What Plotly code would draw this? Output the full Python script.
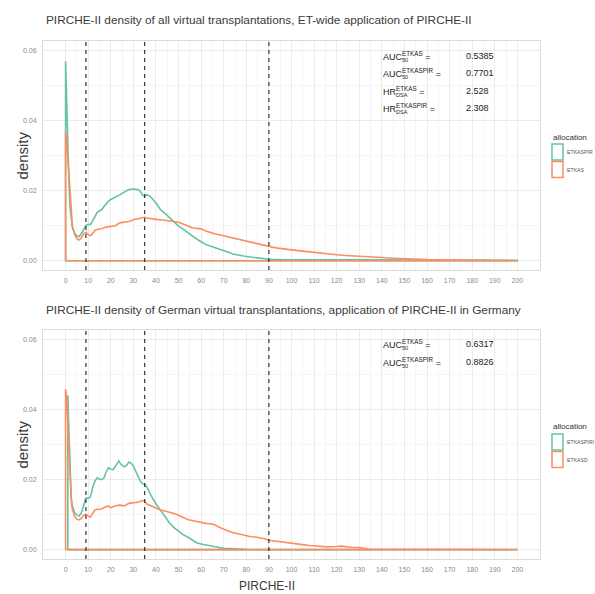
import plotly.graph_objects as go

# ---------------- data ----------------
x_ticks = list(range(0, 201, 10))
x_minor = [v + 5 for v in range(0, 200, 10)]
y_ticks = [0.0, 0.02, 0.04, 0.06]
y_tick_labels = ["0.00", "0.02", "0.04", "0.06"]
y_minor = [0.01, 0.03, 0.05]
thresholds = [9, 35, 90]

# Top panel: ET-wide application
top_etkaspir_x = [0, 0.5, 1, 1.5, 2, 2.5, 3, 4, 5, 6, 7, 8, 9, 10, 11, 12, 13, 14, 15, 16, 17, 18, 19, 20,
                  22, 24, 26, 28, 30, 32, 33, 34, 35, 36, 37, 38, 40, 42, 44, 46, 48, 50, 52, 54, 56, 58, 60,
                  62, 64, 66, 68, 70, 72, 74, 76, 78, 80, 85, 90, 95, 100, 110, 120, 130, 140, 150, 160, 170,
                  180, 190, 200]
top_etkaspir_y = [0.057, 0.045, 0.032, 0.022, 0.015, 0.0115, 0.0095, 0.0078, 0.0071, 0.0069, 0.0077, 0.0089,
                  0.0101, 0.0104, 0.0103, 0.0114, 0.0128, 0.0138, 0.0142, 0.0146, 0.0155, 0.0163, 0.0170,
                  0.0175, 0.0181, 0.0188, 0.0196, 0.0203, 0.0205, 0.0203, 0.0199, 0.0188, 0.0184, 0.0188,
                  0.0186, 0.0180, 0.0165, 0.0146, 0.0135, 0.0122, 0.0110, 0.0099, 0.0090, 0.0080, 0.0070,
                  0.0062, 0.0054, 0.0046, 0.0042, 0.0038, 0.0033, 0.0029, 0.0024, 0.0019, 0.0016, 0.0014,
                  0.0012, 0.0008, 0.0004, 0.0003, 0.0003, 0.0003, 0.0003, 0.0002, 0.0002, 0.0002, 0.0001,
                  0.0001, 0.0001, 0.0001, 0.0001]
top_etkas_x = [0, 0.5, 1, 1.5, 2, 2.5, 3, 4, 5, 6, 7, 8, 9, 10, 11, 12, 13, 14, 16, 18, 20, 22, 24, 26, 28,
               30, 32, 34, 35, 36, 38, 40, 42, 44, 46, 48, 50, 52, 54, 56, 58, 60, 62, 64, 66, 68, 70, 72, 74,
               76, 78, 80, 82, 84, 86, 88, 90, 92, 94, 96, 98, 100, 104, 108, 112, 116, 120, 124, 128, 132,
               136, 140, 145, 150, 160, 170, 180, 190, 200]
top_etkas_y = [0.0368, 0.034, 0.029, 0.023, 0.017, 0.013, 0.010, 0.0075, 0.0063, 0.0059, 0.0065, 0.0077,
               0.0081, 0.0075, 0.0071, 0.0078, 0.0087, 0.0089, 0.0091, 0.0096, 0.0097, 0.0100, 0.0108, 0.0110,
               0.0112, 0.0117, 0.0120, 0.0122, 0.0124, 0.0122, 0.0119, 0.0118, 0.0117, 0.0116, 0.0114, 0.0112,
               0.0110, 0.0106, 0.0100, 0.0094, 0.0092, 0.0091, 0.0085, 0.0080, 0.0077, 0.0074, 0.0071, 0.0067,
               0.0064, 0.0061, 0.0058, 0.0055, 0.0052, 0.0049, 0.0045, 0.0042, 0.0040, 0.0038, 0.0036, 0.0035,
               0.0033, 0.0031, 0.0028, 0.0025, 0.0021, 0.0019, 0.0017, 0.0015, 0.0013, 0.0011, 0.0010, 0.0009,
               0.0007, 0.0005, 0.0003, 0.0002, 0.0001, 0.0001, 0.0]

# Bottom panel: Germany
bot_etkaspir_x = [1, 1.5, 2, 2.5, 3, 4, 5, 6, 7, 8, 9, 10, 11, 12, 13, 14, 15, 16, 17, 18, 19, 20, 21, 22,
                  23, 23.5, 24, 25, 26, 27, 28, 29, 30, 31, 32, 33, 34, 35, 36, 37, 38, 40, 42, 44, 46, 48,
                  50, 52, 54, 56, 58, 60, 62, 64, 66, 68, 70, 72, 75, 80, 90, 100, 120, 140, 160, 180, 200]
bot_etkaspir_y = [0.044, 0.033, 0.022, 0.015, 0.0125, 0.0105, 0.0099, 0.0096, 0.0105, 0.0125, 0.0147, 0.0147,
                  0.0150, 0.0178, 0.0196, 0.0205, 0.0201, 0.0200, 0.0205, 0.0222, 0.0234, 0.0229, 0.0228,
                  0.0237, 0.0250, 0.0253, 0.0248, 0.0240, 0.0236, 0.0240, 0.0250, 0.0247, 0.0238, 0.0225,
                  0.0210, 0.0196, 0.0188, 0.0187, 0.0178, 0.0165, 0.0152, 0.0131, 0.0112, 0.0093, 0.0076,
                  0.0063, 0.0052, 0.0043, 0.0036, 0.0029, 0.0020, 0.0016, 0.0013, 0.0011, 0.0009, 0.0006,
                  0.0004, 0.0003, 0.0002, 0.0001, 0.0, 0.0, 0.0, 0.0, 0.0, 0.0, 0.0]
bot_etkasd_x = [0, 0.5, 1, 1.5, 2, 2.5, 3, 4, 5, 6, 7, 8, 9, 10, 11, 12, 13, 14, 16, 18, 19, 20, 22, 24, 26,
                28, 30, 32, 34, 35, 36, 38, 40, 42, 44, 46, 48, 50, 52, 54, 56, 58, 60, 62, 64, 66, 68, 70, 72,
                74, 76, 78, 80, 82, 84, 86, 88, 90, 92, 94, 96, 100, 104, 108, 112, 116, 120, 122, 126, 130,
                134, 140, 150, 160, 170, 180, 200]
bot_etkasd_y = [0.0458, 0.043, 0.036, 0.027, 0.019, 0.014, 0.0115, 0.0095, 0.0087, 0.0085, 0.0090, 0.0098,
                0.0102, 0.0096, 0.0093, 0.0103, 0.0113, 0.0115, 0.0116, 0.0123, 0.0124, 0.0119, 0.0125, 0.0127,
                0.0125, 0.0132, 0.0134, 0.0135, 0.0140, 0.0138, 0.0130, 0.0124, 0.0119, 0.0113, 0.0110, 0.0107,
                0.0103, 0.0098, 0.0092, 0.0086, 0.0083, 0.0080, 0.0077, 0.0075, 0.0074, 0.0071, 0.0064, 0.0058,
                0.0053, 0.0049, 0.0046, 0.0042, 0.0040, 0.0037, 0.0036, 0.0034, 0.0031, 0.0027, 0.0025, 0.0023,
                0.0021, 0.0018, 0.0015, 0.0012, 0.0010, 0.0008, 0.0009, 0.0010, 0.0007, 0.0006, 0.0002, 0.0001,
                0.0001, 0.0001, 0.0001, 0.0, 0.0]

top_title = "PIRCHE-II density of all virtual transplantations, ET-wide application of PIRCHE-II"
bot_title = "PIRCHE-II density of German virtual transplantations, application of PIRCHE-II in Germany"
top_legend_labels = ["ETKASPIR", "ETKAS"]
bot_legend_labels = ["ETKASPIRI", "ETKASD"]

top_stat_base = ["AUC", "AUC", "HR", "HR"]
top_stat_sup = ["ETKAS", "ETKASPIR", "ETKAS", "ETKASPIR"]
top_stat_sub = ["50", "50", "DSA", "DSA"]
top_stat_val = ["0.5385", "0.7701", "2.528", "2.308"]
bot_stat_base = ["AUC", "AUC"]
bot_stat_sup = ["ETKAS", "ETKASPIR"]
bot_stat_sub = ["50", "50"]
bot_stat_val = ["0.6317", "0.8826"]

# ---------------- style ----------------
W, H = 595, 594
GREEN = "#66C2A5"
ORANGE = "#FC8D62"
FONT = "Liberation Sans, Arial, sans-serif"
GRID = "#ebebeb"
GRID_MINOR = "#f5f5f5"
TICK_COL = "#8a8a8a"
TXT = "#3a3a3a"


def px(x):
    return x / W


def py(y):
    return 1 - y / H


def outline(xs, ys):
    # density polygon outline as drawn by geom_density: baseline + curve
    return [xs[0]] + list(xs) + [xs[-1], xs[0]], [0] + list(ys) + [0, 0]


fig = go.Figure()
panels = [
    ("x", "y", [(top_etkaspir_x, top_etkaspir_y, GREEN), (top_etkas_x, top_etkas_y, ORANGE)]),
    ("x2", "y2", [(bot_etkaspir_x, bot_etkaspir_y, GREEN), (bot_etkasd_x, bot_etkasd_y, ORANGE)]),
]
for xa, ya, series in panels:
    for xs, ys, col in series:
        ox, oy = outline(xs, ys)
        fig.add_trace(go.Scatter(x=ox, y=oy, mode="lines", xaxis=xa, yaxis=ya,
                                 line=dict(color=col, width=1.6), showlegend=False,
                                 hoverinfo="skip"))

xrange_ = [-10, 210]
yrange_ = [-0.00266, 0.06277]
x_dom = [px(43), px(540)]
top_dom = [py(270), py(41)]
bot_dom = [py(559), py(329.5)]


def xaxis(anchor):
    return dict(range=xrange_, domain=x_dom, anchor=anchor, tickmode="array", tickvals=x_ticks,
                ticktext=[str(v) for v in x_ticks], showgrid=True, gridcolor=GRID, gridwidth=1,
                minor=dict(tickmode="array", tickvals=x_minor, showgrid=True, gridcolor=GRID_MINOR,
                           gridwidth=0.8),
                zeroline=False, showline=True, linecolor="#dcdcdc", linewidth=1, mirror=True,
                ticks="", ticklabelstandoff=4,
                tickfont=dict(family=FONT, size=7, color=TICK_COL), fixedrange=True)


def yaxis(anchor, dom):
    return dict(range=yrange_, domain=dom, anchor=anchor, tickmode="array", tickvals=y_ticks,
                ticktext=y_tick_labels, showgrid=True, gridcolor=GRID, gridwidth=1,
                minor=dict(tickmode="array", tickvals=y_minor, showgrid=True, gridcolor=GRID_MINOR,
                           gridwidth=0.8),
                zeroline=False, showline=True, linecolor="#dcdcdc", linewidth=1, mirror=True,
                ticks="", ticklabelstandoff=4,
                tickfont=dict(family=FONT, size=7, color=TICK_COL), fixedrange=True)


shapes = []
for xa, ya in [("x", "y"), ("x2", "y2")]:
    for t in thresholds:
        shapes.append(dict(type="line", xref=xa, yref=f"{ya} domain", x0=t, x1=t, y0=0, y1=1,
                           line=dict(color="#333333", width=1.2, dash="4px,4px"), layer="above"))

annotations = []
# titles
for title, ycen in [(top_title, 20), (bot_title, 310)]:
    annotations.append(dict(text=title, xref="paper", yref="paper", x=px(44), y=py(ycen),
                            xanchor="left", yanchor="middle", showarrow=False,
                            font=dict(family=FONT, size=11.8, color=TXT)))
# y axis titles
for ycen in [155.5, 444.5]:
    annotations.append(dict(text="density", xref="paper", yref="paper", x=px(22), y=py(ycen),
                            xanchor="center", yanchor="middle", showarrow=False, textangle=-90,
                            font=dict(family=FONT, size=15, color=TXT)))
# x axis title (bottom only)
annotations.append(dict(text="PIRCHE-II", xref="paper", yref="paper", x=px(267), y=py(586),
                        xanchor="center", yanchor="middle", showarrow=False,
                        font=dict(family=FONT, size=12, color=TXT)))

# statistics text
base_w = {"AUC": 19, "HR": 13}
stat_sets = [
    ("x", "y", top_stat_base, top_stat_sup, top_stat_sub, top_stat_val),
    ("x2", "y2", bot_stat_base, bot_stat_sup, bot_stat_sub, bot_stat_val),
]
row0, row_step = 0.0586, -0.0050
for xa, ya, bases, sups, subs, vals in stat_sets:
    for i, (b, s, sb, v) in enumerate(zip(bases, sups, subs, vals)):
        yy = row0 + i * row_step
        annotations.append(dict(text=f"{b}<sup>{s}</sup> =", xref=xa, yref=ya, x=139.5, y=yy,
                                xanchor="left", yanchor="middle", showarrow=False,
                                font=dict(family=FONT, size=9, color="#222222")))
        annotations.append(dict(text=sb, xref=xa, yref=ya, x=139.5, y=yy, xshift=base_w[b],
                                yshift=-4, xanchor="left", yanchor="middle", showarrow=False,
                                font=dict(family=FONT, size=5.5, color="#222222")))
        annotations.append(dict(text=v, xref=xa, yref=ya, x=176.5, y=yy,
                                xanchor="left", yanchor="middle", showarrow=False,
                                font=dict(family=FONT, size=9, color="#222222")))

# manual legends
for ytitle, ybox, labels in [(137, 144, top_legend_labels), (426, 434, bot_legend_labels)]:
    annotations.append(dict(text="allocation", xref="paper", yref="paper", x=px(551), y=py(ytitle),
                            xanchor="left", yanchor="middle", showarrow=False,
                            font=dict(family=FONT, size=8, color="#333333")))
    for k, (lab, col) in enumerate(zip(labels, [GREEN, ORANGE])):
        y0 = ybox + k * 17.5
        shapes.append(dict(type="rect", xref="paper", yref="paper", x0=px(552), x1=px(563),
                           y0=py(y0 + 16), y1=py(y0), line=dict(color=col, width=1.5),
                           fillcolor="white", layer="above"))
        annotations.append(dict(text=lab, xref="paper", yref="paper", x=px(565), y=py(y0 + 8),
                                xanchor="left", yanchor="middle", showarrow=False,
                                font=dict(family=FONT, size=5.2, color="#555555")))

fig.update_layout(
    width=W, height=H, margin=dict(l=0, r=0, t=0, b=0),
    paper_bgcolor="white", plot_bgcolor="white",
    xaxis=xaxis("y"), yaxis=yaxis("x", top_dom),
    xaxis2=xaxis("y2"), yaxis2=yaxis("x2", bot_dom),
    shapes=shapes, annotations=annotations, showlegend=False,
)

fig.write_html("out.html")
